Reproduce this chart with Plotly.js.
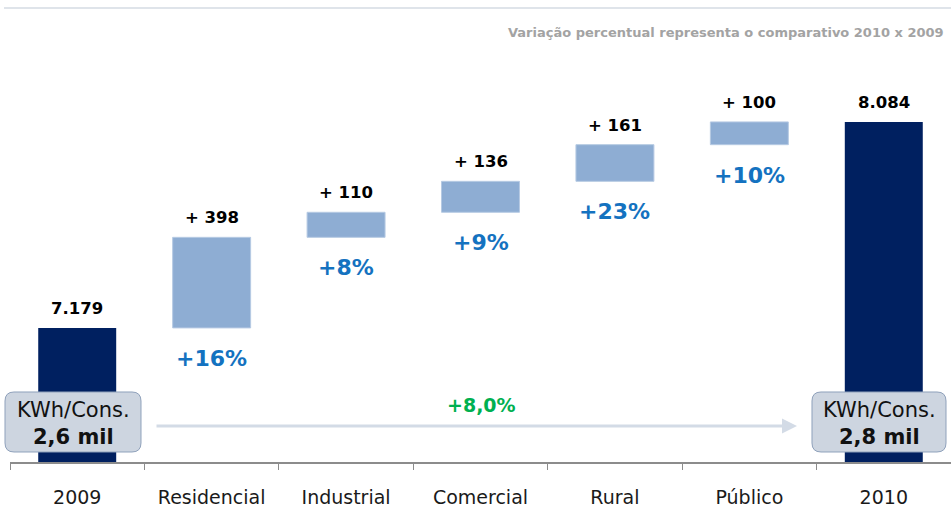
<!DOCTYPE html>
<html>
<head>
<meta charset="utf-8">
<script src="https://cdn.plot.ly/plotly-3.0.1.min.js"></script>
<style>
  html, body { margin: 0; padding: 0; background: #fff; }
  #chart { width: 951px; height: 508px; }
</style>
</head>
<body>
<div id="chart"></div>
<script>
/* global Plotly */

// consumo (GWh) 2009 -> 2010 por classe
const CATEGORIES = ['2009', 'Residencial', 'Industrial', 'Comercial', 'Rural', 'Público', '2010'];
const START_VALUE = 7179;
const DELTAS = [398, 110, 136, 161, 100];
const END_VALUE = 8084;
const PCT_LABELS = ['+16%', '+8%', '+9%', '+23%', '+10%'];
const KWH_PER_CONS = ['2,6 mil', '2,8 mil'];
const TOTAL_GROWTH = '+8,0%';
const NOTE = 'Variação percentual representa o comparativo 2010 x 2009';

const W = 951, H = 508;
const M = {l: 10, r: 0, t: 60, b: 46};
const FONT = 'DejaVu Sans, Verdana, sans-serif';

// pixel -> paper helpers for the decorations
const px2x = px => (px - M.l) / (W - M.l - M.r);
const py2y = py => (H - M.b - py) / (H - M.t - M.b);

function fmt(n) {
    return String(n).replace(/\B(?=(\d{3})+(?!\d))/g, '.');
}

function roundedBox(x0, y0, x1, y1, r) {
    // pixel coords in, paper path out
    const p = (x, y) => px2x(x).toFixed(5) + ',' + py2y(y).toFixed(5);
    return 'M' + p(x0 + r, y0) +
        ' L' + p(x1 - r, y0) + ' Q' + p(x1, y0) + ' ' + p(x1, y0 + r) +
        ' L' + p(x1, y1 - r) + ' Q' + p(x1, y1) + ' ' + p(x1 - r, y1) +
        ' L' + p(x0 + r, y1) + ' Q' + p(x0, y1) + ' ' + p(x0, y1 - r) +
        ' L' + p(x0, y0 + r) + ' Q' + p(x0, y0) + ' ' + p(x0 + r, y0) + ' Z';
}

const measures = ['absolute'].concat(DELTAS.map(() => 'relative'), ['total']);
const yValues = [START_VALUE].concat(DELTAS, [END_VALUE]);

const trace = {
    type: 'waterfall',
    x: CATEGORIES,
    y: yValues,
    measure: measures,
    width: 0.58,
    textinfo: 'none',
    hoverinfo: 'skip',
    connector: {visible: false},
    increasing: {marker: {color: '#8eadd3', line: {color: '#b6cae3', width: 1}}},
    decreasing: {marker: {color: '#8eadd3'}},
    totals: {marker: {color: '#002060', line: {width: 0}}}
};

// running tops / bottoms for the labels
const tops = [];
const bottoms = [];
let run = START_VALUE;
tops.push(START_VALUE);
bottoms.push(null);
DELTAS.forEach(d => {
    bottoms.push(run);
    run += d;
    tops.push(run);
});
tops.push(END_VALUE);

const annotations = [];

// category index is used as x, '2009' would be read as a number otherwise
CATEGORIES.forEach((cat, i) => {
    let label;
    if (i === 0) label = fmt(START_VALUE);
    else if (i === CATEGORIES.length - 1) label = fmt(END_VALUE);
    else label = '+ ' + DELTAS[i - 1];
    annotations.push({
        x: i, y: tops[i], xref: 'x', yref: 'y',
        text: '<b>' + label + '</b>',
        showarrow: false, xanchor: 'center', yanchor: 'bottom', yshift: 8,
        font: {family: FONT, size: 16.5, color: '#000'}
    });
});

PCT_LABELS.forEach((pct, k) => {
    annotations.push({
        x: k + 1, y: bottoms[k + 1], xref: 'x', yref: 'y',
        text: '<b>' + pct + '</b>',
        showarrow: false, xanchor: 'center', yanchor: 'top', yshift: -16,
        font: {family: FONT, size: 22, color: '#1472c0'}
    });
});

// total growth arrow + label
annotations.push({
    x: px2x(797), y: py2y(426), xref: 'paper', yref: 'paper',
    ax: -(797 - 155), ay: 0, text: '',
    showarrow: true, arrowhead: 2, arrowsize: 1, arrowwidth: 3, arrowcolor: '#d3dbe6'
});
annotations.push({
    x: px2x(481), y: py2y(405), xref: 'paper', yref: 'paper',
    xanchor: 'center', yanchor: 'middle',
    text: '<b>' + TOTAL_GROWTH + '</b>', showarrow: false,
    font: {family: FONT, size: 19, color: '#00b050'}
});

// KWh/Cons. boxes
const boxes = [[5, 141], [812, 946]];
const shapes = [{
    type: 'line', xref: 'paper', yref: 'paper',
    x0: px2x(4), x1: px2x(951), y0: py2y(8), y1: py2y(8),
    line: {color: '#dfe4ea', width: 2}
}];
boxes.forEach(([x0, x1], i) => {
    shapes.push({
        type: 'path', xref: 'paper', yref: 'paper',
        path: roundedBox(x0, 392, x1, 452, 9),
        fillcolor: '#cdd5e0', line: {color: '#8fa1bb', width: 1}
    });
    annotations.push({
        x: px2x((x0 + x1) / 2), y: py2y(423), xref: 'paper', yref: 'paper',
        xanchor: 'center', yanchor: 'middle',
        text: 'KWh/Cons.<br><b>' + KWH_PER_CONS[i] + '</b>', showarrow: false,
        font: {family: FONT, size: 21, color: '#111'}
    });
});

annotations.push({
    x: px2x(506), y: py2y(33), xref: 'paper', yref: 'paper',
    xanchor: 'left', yanchor: 'middle', text: '<b>' + NOTE + '</b>', showarrow: false,
    font: {family: FONT, size: 13, color: '#a3a3a3'}
});

const layout = {
    width: W,
    height: H,
    margin: M,
    paper_bgcolor: '#fff',
    plot_bgcolor: '#fff',
    showlegend: false,
    xaxis: {
        type: 'category',
        range: [-0.5, CATEGORIES.length - 0.5],
        tickson: 'boundaries',
        ticks: 'outside',
        ticklen: 6,
        tickcolor: '#8c8c8c',
        showline: true,
        linecolor: '#8c8c8c',
        linewidth: 1.5,
        showgrid: false,
        ticklabelstandoff: 18,
        tickfont: {family: FONT, size: 19, color: '#1a1a1a'},
        fixedrange: true
    },
    yaxis: {
        range: [6590, 8356],
        visible: false,
        showgrid: false,
        zeroline: false,
        fixedrange: true
    },
    shapes,
    annotations
};

Plotly.newPlot('chart', [trace], layout, {displayModeBar: false, staticPlot: true});
</script>
</body>
</html>
